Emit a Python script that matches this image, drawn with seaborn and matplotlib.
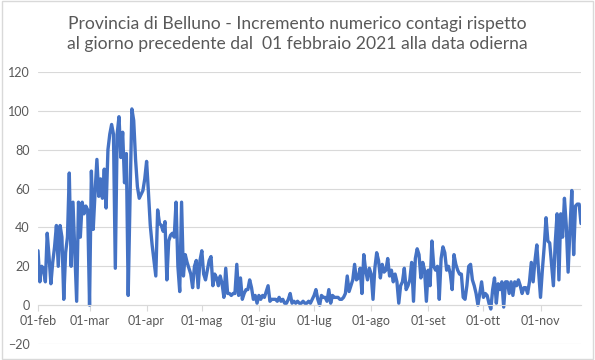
import numpy as np
import pandas as pd
import matplotlib
matplotlib.use("Agg")
import matplotlib.pyplot as plt
import matplotlib.dates as mdates
from matplotlib.patches import Rectangle
import seaborn as sns

# daily increase of cases, Belluno, from 01 Feb 2021
incremento = [
    28, 12, 20, 19, 12, 37, 25, 11, 22, 30,
    41, 20, 41, 35, 3, 27, 35, 68, 20, 53,
    28, 2, 53, 35, 53, 47, 51, 49, 0, 69,
    39, 58, 75, 56, 65, 55, 70, 50, 80, 88,
    93, 88, 19, 88, 97, 76, 89, 63, 78, 5,
    55, 101, 95, 75, 61, 55, 57, 59, 65, 74,
    58, 41, 31, 23, 15, 49, 42, 41, 38, 43,
    13, 33, 36, 37, 35, 53, 20, 7, 53, 15,
    26, 22, 19, 16, 9, 20, 23, 9, 23, 28,
    16, 13, 18, 23, 25, 10, 16, 14, 10, 15,
    11, 4, 19, 6, 6, 5, 6, 6, 21, 5,
    14, 3, 6, 8, 8, 13, 9, 3, 5, 1,
    5, 3, 5, 4, 7, 10, 2, 3, 3, 3,
    2, 4, 2, 3, 1, 1, 3, 6, 1, 2,
    1, 2, 1, 1, 2, 1, 1, 2, 1, 3,
    5, 8, 3, 0, 5, 4, 4, 2, 8, 1,
    5, 4, 4, 4, 3, 3, 4, 6, 15, 7,
    10, 13, 21, 13, 14, 19, 6, 26, 18, 13,
    19, 16, 3, 19, 27, 23, 14, 21, 17, 18,
    24, 15, 18, 12, 16, 12, 1, 10, 12, 19,
    8, 10, 13, 22, 2, 24, 29, 26, 14, 22,
    18, 2, 18, 10, 33, 20, 18, 20, 3, 24,
    30, 27, 18, 20, 16, 8, 26, 21, 18, 16,
    16, 4, 3, 10, 20, 21, 13, 10, 6, 0,
    6, 12, 4, 6, 5, 1, -2, 8, 14, 1,
    11, 8, 12, -1, 12, 12, 6, 12, 5, 12,
    10, 13, 10, 6, 9, 9, 6, 12, 22, 12,
    23, 31, 17, 4, 18, 30, 45, 33, 32, 21,
    10, 32, 47, 13, 47, 35, 55, 41, 17, 39,
    59, 26, 51, 52, 52, 42,
]
mesi = ["01-feb", "01-mar", "01-apr", "01-mag", "01-giu",
        "01-lug", "01-ago", "01-set", "01-ott", "01-nov"]
titolo = ("Provincia di Belluno - Incremento numerico contagi rispetto\n"
          "al giorno precedente dal  01 febbraio 2021 alla data odierna")

df = pd.DataFrame({
    "Data": pd.date_range("2021-02-01", periods=len(incremento), freq="D"),
    "Incremento": incremento,
})

sns.set_theme(style="white")
plt.rcParams["font.family"] = ["Lato", "DejaVu Sans"]

fig = plt.figure(figsize=(5.95, 3.6), dpi=100)
ax = fig.add_axes([38 / 595, 1 - 344 / 360, (581 - 38) / 595, (344 - 72) / 360])

sns.lineplot(data=df, x="Data", y="Incremento", ax=ax,
             color="#4472C4", linewidth=2.4)

ax.set_ylim(-20, 120)
ax.set_yticks(range(-20, 121, 20))
ax.set_xlim(df["Data"].iloc[0], df["Data"].iloc[-1])
ax.set_xticks(pd.date_range("2021-02-01", periods=len(mesi), freq="MS"))
ax.set_xticklabels(mesi)
ax.set_xlabel("")
ax.set_ylabel("")

ax.grid(axis="y", color="#d9d9d9", linewidth=0.8)
ax.grid(axis="x", visible=False)
ax.set_axisbelow(True)
for s in ["top", "right", "left"]:
    ax.spines[s].set_visible(False)
ax.spines["bottom"].set_position(("data", 0))
ax.spines["bottom"].set_color("#d9d9d9")
ax.spines["bottom"].set_linewidth(0.8)
ax.tick_params(axis="x", direction="out", length=4, width=0.8,
               color="#d9d9d9", labelcolor="#595959", labelsize=9, pad=3)
ax.tick_params(axis="y", length=0, labelcolor="#595959", labelsize=9, pad=6)
ax.tick_params(axis="x", bottom=True)

fig.text(0.5, 0.905, titolo, ha="center", va="center", fontsize=12.6,
         color="#595959", linespacing=1.3)

fig.patches.append(Rectangle((0.003, 0.004), 0.994, 0.992, transform=fig.transFigure,
                             fill=False, edgecolor="#d9d9d9", linewidth=1))

fig.savefig("out.png", dpi=100)
plt.close(fig)
